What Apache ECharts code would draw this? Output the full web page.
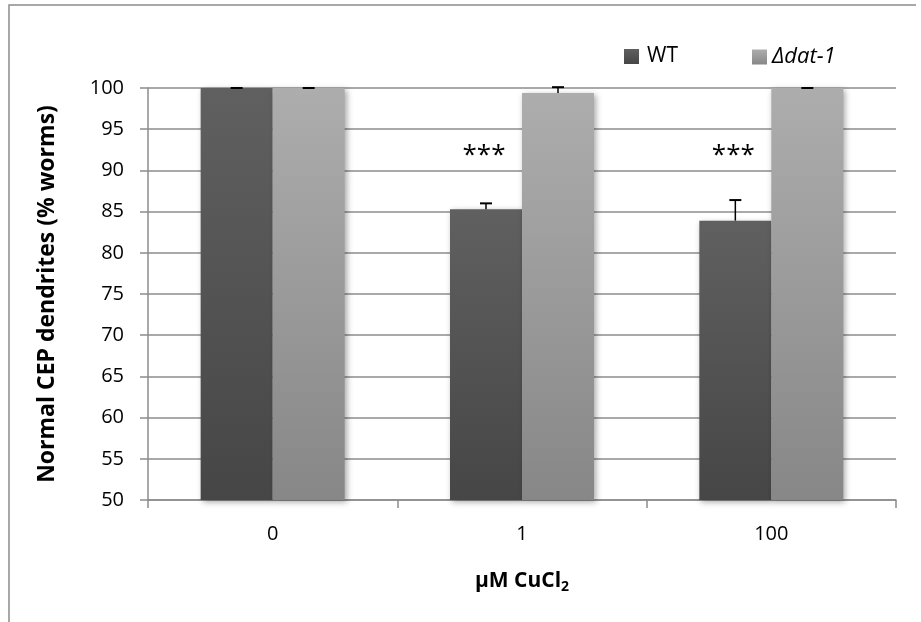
<!DOCTYPE html>
<html>
<head>
<meta charset="utf-8">
<script src="https://cdn.jsdelivr.net/npm/echarts@6/dist/echarts.min.js"></script>
<style>
  html, body { margin: 0; padding: 0; background: #fff; }
  #chart { width: 921px; height: 622px; }
</style>
</head>
<body>
<div id="chart"></div>
<script>
// Copper exposure (µM CuCl2) and the share of worms with normal CEP dendrites
const categories = ['0', '1', '100'];
const wtValues = [100, 85.3, 83.9];
const wtErrors = [0, 0.7, 2.5];
const datValues = [100, 99.4, 100];
const datErrors = [0, 0.7, 0];
const wtSignificance = ['', '***', '***'];
const significanceLevel = 92.4;
const yTicks = { min: 50, max: 100, interval: 5 };

const FONT = '"Open Sans", "Noto Sans", sans-serif';
const BAR_WIDTH = 72;
const GRID_COLOR = '#8c8c8c';

const chart = echarts.init(document.getElementById('chart'));

function gradient(top, bottom) {
  return new echarts.graphic.LinearGradient(0, 0, 0, 1, [
    { offset: 0, color: top },
    { offset: 1, color: bottom }
  ]);
}

// Upward-only error bars plus significance marks, centred on each bar
function errorBarSeries(name, values, errors, side, marks) {
  const data = values.map((v, i) => [i, v, errors[i]]);
  return {
    type: 'custom',
    name: name + ' error',
    z: 10,
    clip: false,
    silent: true,
    data: data,
    encode: { x: 0, y: 1 },
    renderItem: function (params, api) {
      const idx = api.value(0);
      const val = api.value(1);
      const err = api.value(2);
      const mark = marks ? marks[idx] : '';
      const base = api.coord([idx, val]);
      const top = api.coord([idx, val + err]);
      const x = base[0] + side * BAR_WIDTH / 2;
      const children = [
        {
          type: 'line',
          shape: { x1: x, y1: base[1], x2: x, y2: top[1] },
          style: { stroke: '#000', lineWidth: 1.5 }
        },
        {
          type: 'line',
          shape: { x1: x - 6, y1: top[1], x2: x + 6, y2: top[1] },
          style: { stroke: '#000', lineWidth: 2 }
        }
      ];
      if (mark) {
        const p = api.coord([idx, significanceLevel]);
        // asterisks sit high in the em box, so nudge the text block down
        children.push({
          type: 'text',
          x: x - 2,
          y: p[1] + 5,
          style: {
            text: mark,
            font: '26px ' + FONT,
            fill: '#000',
            align: 'center',
            verticalAlign: 'middle'
          }
        });
      }
      return { type: 'group', children: children };
    }
  };
}

const barShadow = {
  shadowBlur: 6,
  shadowColor: 'rgba(0,0,0,0.35)',
  shadowOffsetX: 2,
  shadowOffsetY: 2
};

chart.setOption({
  animation: false,
  backgroundColor: '#fff',
  textStyle: { fontFamily: FONT },
  graphic: [
    {
      type: 'polyline',
      shape: { points: [[9, 640], [9, 5], [916, 5]] },
      style: { fill: 'none', stroke: GRID_COLOR, lineWidth: 1.5 },
      z: -1
    }
  ],
  legend: [
    {
      data: ['WT'],
      left: 624,
      top: 46,
      padding: 0,
      itemWidth: 15,
      itemHeight: 15,
      icon: 'rect',
      textStyle: { fontSize: 21, color: '#000', fontFamily: FONT, padding: [0, 0, 0, 3] }
    },
    {
      data: ['Δdat-1'],
      left: 752,
      top: 46,
      padding: 0,
      itemWidth: 15,
      itemHeight: 15,
      icon: 'rect',
      textStyle: { fontSize: 22, color: '#000', fontStyle: 'italic', fontFamily: FONT }
    }
  ],
  grid: { left: 148, right: 25, top: 88, bottom: 122 },
  xAxis: {
    type: 'category',
    data: categories,
    name: '{b|µM CuCl}{s|2}',
    nameLocation: 'middle',
    nameGap: 68,
    nameTextStyle: {
      rich: {
        b: { fontSize: 21, fontWeight: 'bold', color: '#000', fontFamily: FONT },
        s: { fontSize: 14, fontWeight: 'bold', color: '#000', fontFamily: FONT, padding: [12, 0, 0, 0] }
      }
    },
    axisLine: { lineStyle: { color: GRID_COLOR, width: 1.5 } },
    axisTick: { show: true, length: 8, lineStyle: { color: GRID_COLOR, width: 1.5 } },
    axisLabel: { fontSize: 20, color: '#000', margin: 24, fontFamily: FONT }
  },
  yAxis: {
    type: 'value',
    min: yTicks.min,
    max: yTicks.max,
    interval: yTicks.interval,
    name: 'Normal CEP dendrites (% worms)',
    nameLocation: 'middle',
    nameGap: 89,
    nameTextStyle: { fontSize: 23, fontWeight: 'bold', color: '#000', fontFamily: FONT },
    axisLine: { show: true, lineStyle: { color: GRID_COLOR, width: 1.5 } },
    axisTick: { show: true, length: 8, lineStyle: { color: GRID_COLOR, width: 1.5 } },
    axisLabel: { fontSize: 20, color: '#000', margin: 24, fontFamily: FONT },
    splitLine: { show: true, lineStyle: { color: GRID_COLOR, width: 1.5 } }
  },
  series: [
    {
      name: 'WT',
      type: 'bar',
      data: wtValues,
      barWidth: BAR_WIDTH,
      barGap: '0%',
      itemStyle: Object.assign({ color: gradient('#606060', '#464646') }, barShadow)
    },
    {
      name: 'Δdat-1',
      type: 'bar',
      data: datValues,
      barWidth: BAR_WIDTH,
      barGap: '0%',
      itemStyle: Object.assign({ color: gradient('#adadad', '#878787') }, barShadow)
    },
    errorBarSeries('WT', wtValues, wtErrors, -1, wtSignificance),
    errorBarSeries('Δdat-1', datValues, datErrors, 1, null)
  ]
});
</script>
</body>
</html>
